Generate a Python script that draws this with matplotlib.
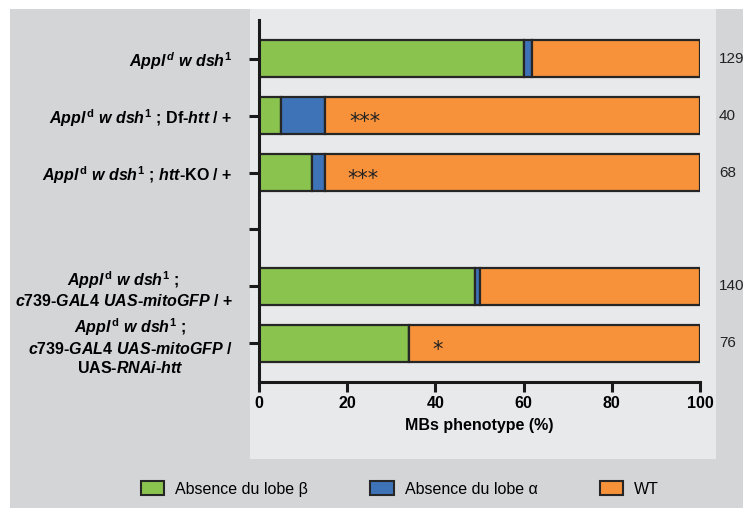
import matplotlib
matplotlib.use("Agg")
import matplotlib.pyplot as plt
from matplotlib.patches import Rectangle

plt.rcParams["font.family"] = "Liberation Sans"
plt.rcParams["mathtext.fontset"] = "custom"
plt.rcParams["mathtext.rm"] = "Liberation Sans:bold"
plt.rcParams["mathtext.bf"] = "Liberation Sans:bold"
plt.rcParams["mathtext.it"] = "Liberation Sans:italic:bold"

# genotype labels (row 3 is an empty gap)
genotypes = [
    r"$\mathit{Appl}^{\mathit{d}}\ \mathit{w\ dsh}^{\mathit{1}}$",
    r"$\mathit{Appl}^{\mathrm{d}}\ \mathit{w\ dsh}^{\mathrm{1}}$ ; Df-$\mathit{htt}$ / +",
    r"$\mathit{Appl}^{\mathrm{d}}\ \mathit{w\ dsh}^{\mathrm{1}}$ ; $\mathit{htt}$-KO / +",
    "",
    r"$\mathit{Appl}^{\mathrm{d}}\ \mathit{w\ dsh}^{\mathrm{1}}$ ;" "\n"
    r"$\mathit{c739}$-$\mathit{GAL4\ UAS}$-$\mathit{mitoGFP}$ / +",
    r"$\mathit{Appl}^{\mathrm{d}}\ \mathit{w\ dsh}^{\mathrm{1}}$ ;" "\n"
    r"$\mathit{c739}$-$\mathit{GAL4\ UAS}$-$\mathit{mitoGFP}$ /" "\n"
    r"UAS-$\mathit{RNAi}$-$\mathit{htt}$",
]
rows = [0, 1, 2, 4, 5]
absence_beta = [60, 5, 12, 49, 34]
absence_alpha = [2, 10, 3, 1, 0]
wild_type = [38, 85, 85, 50, 66]
n_flies = ["129", "40", "68", "140", "76"]
stars = ["", "***", "***", "", "*"]
star_x = [0, 24, 23.5, 0, 40.5]

green = "#8bc34f"
blue = "#3f73b8"
orange = "#f7923a"
edge = "#262626"

fig = plt.figure(figsize=(7.43, 5.08), dpi=100, facecolor="white")
W, H = 743.0, 508.0
# outer grey panel and lighter plot panel
fig.patches.append(Rectangle((10 / W, 0), 1, (H - 9) / H, transform=fig.transFigure,
                             facecolor="#d4d5d7", edgecolor="none", zorder=-2))
fig.patches.append(Rectangle((250 / W, (H - 459) / H), 466 / W, 450 / H,
                             transform=fig.transFigure, facecolor="#e8e9eb",
                             edgecolor="none", zorder=-1))

ax = fig.add_axes([259 / W, (H - 382) / H, 441 / W, 362 / H])
ax.set_facecolor("none")

h = 0.65
kw = dict(height=h, edgecolor=edge, linewidth=1.6)
ax.barh(rows, absence_beta, color=green, **kw)
ax.barh(rows, absence_alpha, left=absence_beta, color=blue, **kw)
left_wt = [g + b for g, b in zip(absence_beta, absence_alpha)]
ax.barh(rows, wild_type, left=left_wt, color=orange, **kw)

for r, s, sx, n in zip(rows, stars, star_x, n_flies):
    if s:
        ax.text(sx, r + 0.12, s, ha="center", va="center", fontsize=15,
                color="#222222", family="DejaVu Sans")
    ax.text(104.3, r, n, ha="left", va="center", fontsize=11, color="#222222",
            clip_on=False)

ax.set_xlim(0, 100)
ax.set_ylim(5.68, -0.68)
ax.set_yticks(range(6))
ax.set_yticklabels(genotypes, fontsize=11.5, fontweight="bold")
for lab in ax.get_yticklabels():
    lab.set_multialignment("center")
ax.set_xticks([0, 20, 40, 60, 80, 100])
ax.set_xticklabels(["0", "20", "40", "60", "80", "100"], fontsize=11.5,
                   fontweight="bold")
ax.set_xlabel("MBs phenotype (%)", fontsize=11.5, fontweight="bold", labelpad=5)

for side in ("top", "right"):
    ax.spines[side].set_visible(False)
for side in ("left", "bottom"):
    ax.spines[side].set_linewidth(2.2)
    ax.spines[side].set_color("#1a1a1a")
ax.tick_params(axis="both", length=7, width=2.2, color="#1a1a1a")
ax.tick_params(axis="y", pad=12)
ax.tick_params(axis="x", pad=3)

handles = [Rectangle((0, 0), 1, 1, facecolor=c, edgecolor=edge, linewidth=1.5)
           for c in (green, blue, orange)]
fig.legend(handles, ["Absence du lobe β", "Absence du lobe α", "WT"],
           loc="center", bbox_to_anchor=(400 / W, (H - 489) / H), ncol=3,
           frameon=False, fontsize=11.5, handlelength=1.45, handleheight=1.0,
           columnspacing=3.9, handletextpad=0.7)

fig.savefig("out.png", dpi=100, facecolor="white")
